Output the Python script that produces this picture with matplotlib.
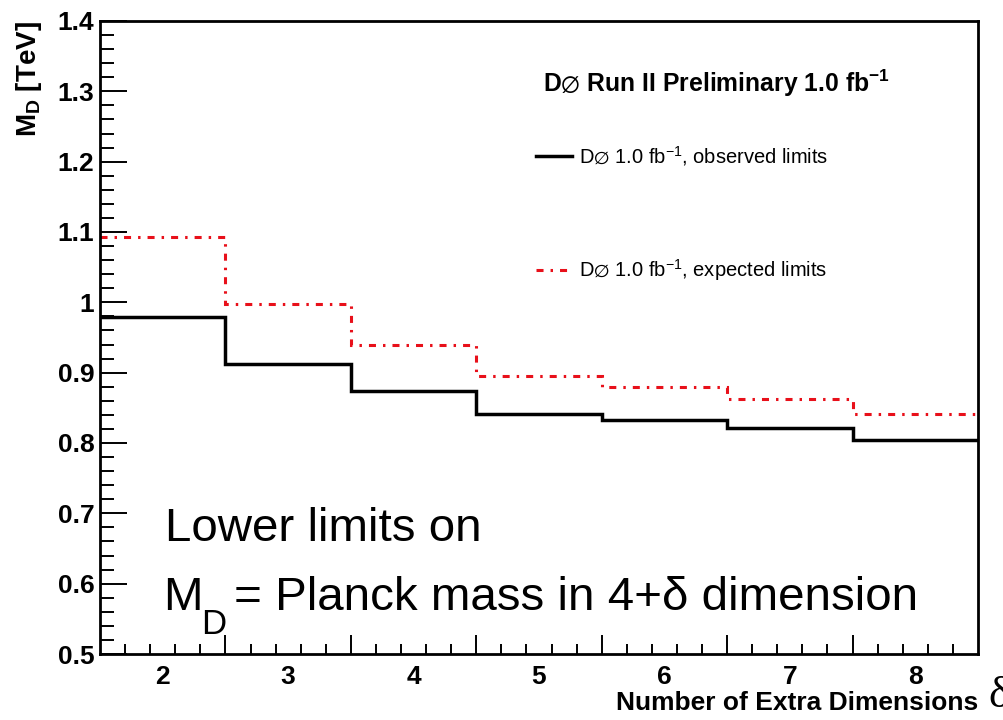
import numpy as np
import matplotlib
matplotlib.use('Agg')
import matplotlib.pyplot as plt
from matplotlib.ticker import MultipleLocator, FixedLocator, FuncFormatter

plt.rcParams['font.family'] = ['Liberation Sans', 'DejaVu Sans']
plt.rcParams['mathtext.fontset'] = 'custom'
plt.rcParams['mathtext.rm'] = 'Liberation Sans'
plt.rcParams['mathtext.bf'] = 'Liberation Sans:bold'

# number of extra dimensions and the limits on M_D [TeV]
n_dims = [2, 3, 4, 5, 6, 7, 8]
observed = [0.979, 0.913, 0.874, 0.841, 0.832, 0.821, 0.804]
expected = [1.093, 0.997, 0.940, 0.895, 0.879, 0.862, 0.841]

edges = np.append(np.array(n_dims) - 0.5, n_dims[-1] + 0.5)

fig = plt.figure(figsize=(10.04, 7.2), dpi=100)
ax = fig.add_axes([100/1004, 1-654/720, 878/1004, 633/720])

ax.stairs(observed, edges, baseline=None, color='black', lw=2.5,
          label=r'D$\varnothing$ 1.0 fb$^{-1}$, observed limits')
ax.stairs(expected, edges, baseline=None, color='#e8101a', lw=2.2,
          linestyle=(0, (2.3, 2.3, 0.8, 2.3)),
          label=r'D$\varnothing$ 1.0 fb$^{-1}$, expected limits')

ax.set_xlim(1.5, 8.5)
ax.set_ylim(0.5, 1.4)

for s in ax.spines.values():
    s.set_linewidth(2)

# y axis: ROOT style ticks pointing inwards
ax.yaxis.set_major_locator(MultipleLocator(0.1))
ax.yaxis.set_minor_locator(MultipleLocator(0.02))
ax.yaxis.set_major_formatter(FuncFormatter(lambda v, p: '%g' % round(v, 2)))
ax.tick_params(axis='y', which='major', direction='in', length=19.5, width=1.4,
               labelsize=19, pad=4)
ax.tick_params(axis='y', which='minor', direction='in', length=10, width=1.4)
for lab in ax.get_yticklabels():
    lab.set_fontweight('bold')

# x axis: long ticks at bin edges, short ones every 0.2
ax.xaxis.set_major_locator(FixedLocator(edges[1:-1]))
ax.xaxis.set_minor_locator(FixedLocator(np.arange(1.7, 8.45, 0.2)))
ax.tick_params(axis='x', which='major', direction='in', length=13.7, width=1.4,
               labelbottom=False)
ax.tick_params(axis='x', which='minor', direction='in', length=7, width=1.4)

secx = ax.secondary_xaxis('bottom')
secx.set_xticks(n_dims)
secx.tick_params(length=0, labelsize=19, pad=8)
secx.spines['bottom'].set_visible(False)
for lab in secx.get_xticklabels():
    lab.set_fontweight('bold')

ax.set_ylabel(r'$\mathbf{M_{D}}$ [TeV]', fontsize=20, fontweight='bold')
ax.yaxis.set_label_coords(-0.064, 1.0)
ax.yaxis.label.set_ha('right')

ax.set_xlabel('Number of Extra Dimensions', fontsize=19, fontweight='bold')
ax.xaxis.set_label_coords(978/1004, 1-710/720, transform=fig.transFigure)
ax.xaxis.label.set_ha('right')
ax.xaxis.label.set_va('baseline')
fig.text(988/1004, 1-676/720, u'\u03b4', fontsize=32, va='top',
         family='Liberation Serif')

# legend
fig.text(543/1004, 1-92/720, r'D$\varnothing$ Run II Preliminary 1.0 fb$^{\mathbf{-1}}$',
         fontsize=17.8, fontweight='bold', va='baseline')
ax.legend(loc='upper left', bbox_to_anchor=(536/1004, 1-144/720),
          bbox_transform=fig.transFigure, frameon=False, fontsize=14.5,
          borderpad=0, borderaxespad=0, handlelength=1.8, handletextpad=0.35,
          labelspacing=4.45)

# annotation
fig.text(165/1004, 1-541/720, 'Lower limits on', fontsize=34.2, va='baseline')
fig.text(163/1004, 1-610/720, 'M', fontsize=34.2, va='baseline')
fig.text(201/1004, 1-634/720, 'D', fontsize=25, va='baseline')
fig.text(234/1004, 1-610/720, u'= Planck mass in 4+\u03b4 dimension', fontsize=34.2,
         va='baseline')

fig.savefig('out.png', dpi=100)
